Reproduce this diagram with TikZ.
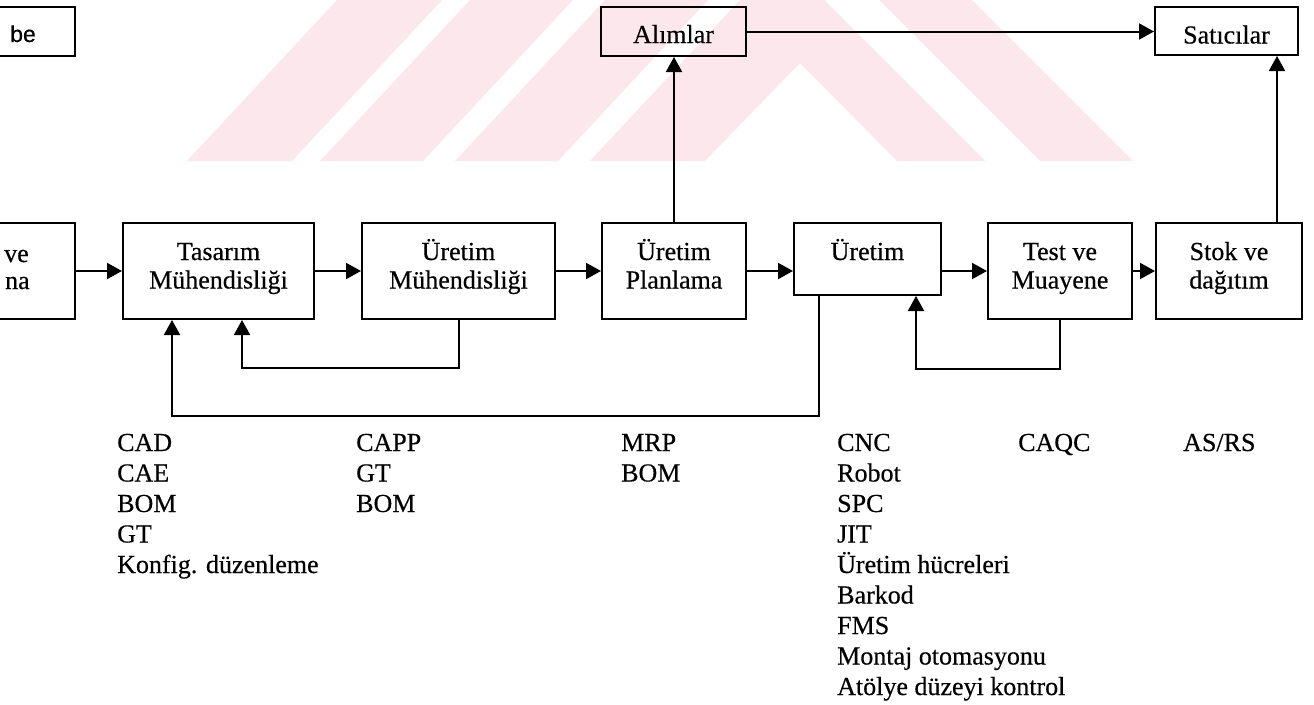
\documentclass[tikz,border=0pt]{standalone}
\usepackage{fontspec}
\setmainfont{Liberation Serif}[FakeBold=0.4]
\newfontfamily\boxsans{Liberation Sans}[FakeBold=0.4]
\usetikzlibrary{arrows.meta}
\definecolor{wmpink}{RGB}{252,232,236}

\begin{document}
\begin{tikzpicture}[x=1pt,y=-1pt,
  box/.style={draw=black, line width=2pt, inner sep=0pt},
  txt/.style={anchor=base, inner sep=0pt, font=\fontsize{26}{30}\selectfont},
  listtxt/.style={anchor=base west, inner sep=0pt, font=\fontsize{26}{30}\selectfont},
  flow/.style={line width=2pt, -{Triangle[length=15pt,width=16pt]}},
]
\useasboundingbox (0,0) rectangle (1314,704);
\clip (0,0) rectangle (1314,704);
\fill[white] (0,0) rectangle (1314,704);

% faint striped emblem in the background
\fill[wmpink] (187,161) -- (292,161) -- (442,0) -- (337,0) -- cycle;
\fill[wmpink] (320,161) -- (423,161) -- (573,0) -- (470,0) -- cycle;
\fill[wmpink] (455,161) -- (558,161) -- (708,0) -- (605,0) -- cycle;
\fill[wmpink] (590,161) -- (705,161) -- (800,63) -- (897,161) -- (985,161) -- (824,0) -- (740,0) -- cycle;
\fill[wmpink] (1040,161) -- (1133,161) -- (972,0) -- (879,0) -- cycle;

% process boxes
\node[box, minimum width=135pt, minimum height=96pt] (pz)  at (7.5,271) {};
\node[box, minimum width=135pt, minimum height=49pt] (be)  at (7.5,31.5) {};
\node[box, minimum width=191pt, minimum height=96pt] (tas) at (218.5,271) {};
\node[box, minimum width=193pt, minimum height=96pt] (umh) at (458.5,271) {};
\node[box, minimum width=144pt, minimum height=96pt] (upl) at (674,271) {};
\node[box, minimum width=147pt, minimum height=72pt] (ure) at (867.5,259) {};
\node[box, minimum width=144pt, minimum height=96pt] (tes) at (1060,271) {};
\node[box, minimum width=146pt, minimum height=96pt] (sto) at (1229,271) {};
\node[box, minimum width=145pt, minimum height=49pt] (alm) at (673.5,31.5) {};
\node[box, minimum width=143pt, minimum height=48pt] (sat) at (1226.5,31) {};

% box texts
\node[anchor=base west, inner sep=0pt, font=\boxsans\fontsize{23}{27}\selectfont] at (10,42) {be};
\node[anchor=base west, inner sep=0pt, font=\fontsize{26}{30}\selectfont] at (4,262) {ve};
\node[anchor=base west, inner sep=0pt, font=\fontsize{26}{30}\selectfont] at (5,289) {na};
\node[txt] at ([yshift=11pt]tas.center) {Tasarım};
\node[txt] at ([yshift=-17.5pt]tas.center) {Mühendisliği};
\node[txt] at ([yshift=11pt]umh.center) {Üretim};
\node[txt] at ([yshift=-17.5pt]umh.center) {Mühendisliği};
\node[txt] at ([yshift=11pt]upl.center) {Üretim};
\node[txt] at ([yshift=-17.5pt]upl.center) {Planlama};
\node[txt] at ([yshift=-1pt]ure.center) {Üretim};
\node[txt] at ([yshift=11pt]tes.center) {Test ve};
\node[txt] at ([yshift=-17.5pt]tes.center) {Muayene};
\node[txt] at ([yshift=11pt]sto.center) {Stok ve};
\node[txt] at ([yshift=-17.5pt]sto.center) {dağıtım};
\node[txt] at ([yshift=-11.5pt]alm.center) {Alımlar};
\node[txt] at ([yshift=-12.5pt]sat.center) {Satıcılar};

% main flow
\draw[flow] (pz) -- (tas);
\draw[flow] (tas) -- (umh);
\draw[flow] (umh) -- (upl);
\draw[flow] (upl.east) -- (upl.east -| ure.west);
\draw[flow] (ure.east |- tes.west) -- (tes.west);
\draw[flow] (tes) -- (sto);

% purchasing and suppliers
\draw[flow] (upl.north) -- (upl.north |- alm.south);
\draw[flow] (alm.east) -- (alm.east -| sat.west);
\draw[flow] ([xshift=48pt]sto.north) -- ([xshift=48pt]sto.north |- sat.south);

% feedback loops
\draw[flow] (umh.south) -- ++(0,48) -| ([xshift=23.5pt]tas.south);
\draw[flow] ([xshift=-48.5pt]ure.south) -- ++(0,120) -| ([xshift=-46.5pt]tas.south);
\draw[flow] (tes.south) -- ++(0,49) -| ([xshift=48.5pt]ure.south);

% supporting technologies under each stage
\foreach \t [count=\i from 0] in {CAD,CAE,BOM,GT,Konfig. düzenleme}
  \node[listtxt] at (117,451+30.5*\i) {\t};
\foreach \t [count=\i from 0] in {CAPP,GT,BOM}
  \node[listtxt] at (356,451+30.5*\i) {\t};
\foreach \t [count=\i from 0] in {MRP,BOM}
  \node[listtxt] at (621,451+30.5*\i) {\t};
\foreach \t [count=\i from 0] in {CNC,Robot,SPC,JIT,Üretim hücreleri,Barkod,FMS,Montaj otomasyonu,Atölye düzeyi kontrol}
  \node[listtxt] at (837,451+30.5*\i) {\t};
\node[listtxt] at (1018,451) {CAQC};
\node[listtxt] at (1183,451) {AS/RS};
\end{tikzpicture}
\end{document}
